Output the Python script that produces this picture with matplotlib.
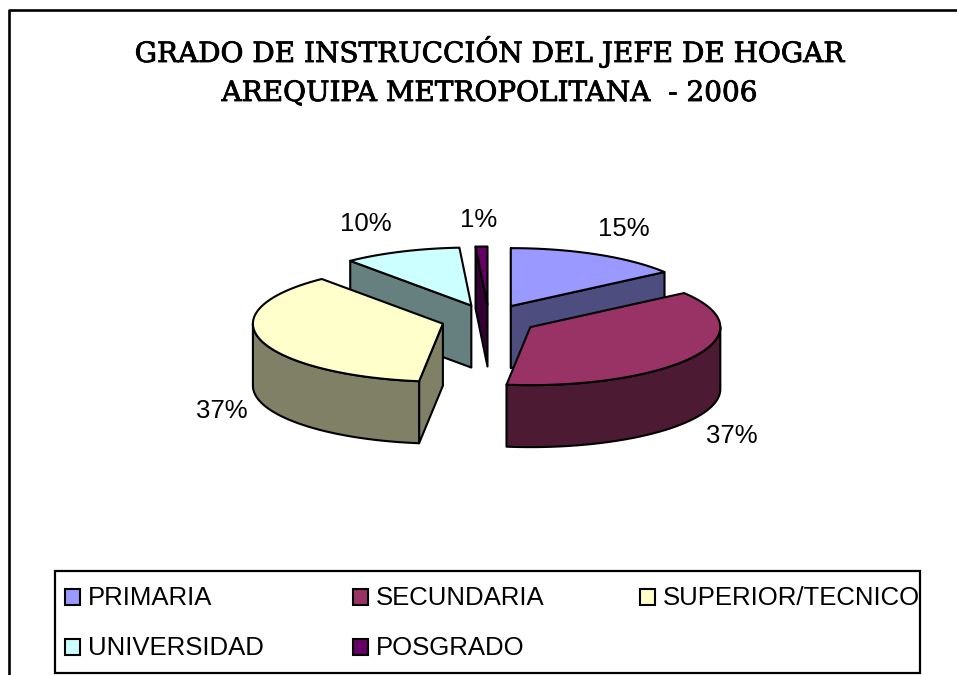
import numpy as np
import matplotlib
matplotlib.use('Agg')
import matplotlib.pyplot as plt
import matplotlib.patheffects as pe
from matplotlib.patches import Polygon, Rectangle

categorias = ['PRIMARIA', 'SECUNDARIA', 'SUPERIOR/TECNICO', 'UNIVERSIDAD', 'POSGRADO']
valores = [15, 37, 37, 10, 1]
colores = ['#9999FF', '#993366', '#FFFFCC', '#CCFFFF', '#660066']
oscuros = ['#4D4D80', '#4D1A33', '#808066', '#668080', '#330033']

# geometria del pastel 3D (pixeles)
CX, CY = 489, 319.5
RX, RY = 190, 58
ALTO = 62
EXPL = 48
EXPL_Y = 15

W, H = 957, 675
fig = plt.figure(figsize=(W / 100, H / 100), dpi=100)
ax = fig.add_axes([0, 0, 1, 1])
ax.set_xlim(0, W)
ax.set_ylim(H, 0)
ax.axis('off')

# marco del grafico: sin lado derecho, cortado abajo
ax.plot([9, 9, W], [H, 10, 10], color='black', lw=1.9, solid_capstyle='butt')


def punto(a, ox, oy):
    return ox + RX * np.sin(a), oy - RY * np.cos(a)


def cara(xs, ys, color, z):
    ax.add_patch(Polygon(np.column_stack([xs, ys]), closed=True, facecolor=color,
                         edgecolor='black', lw=1.5, joinstyle='round', zorder=z))


# angulos de cada tajada, a partir de las 12 en sentido horario
fracs = np.cumsum([0] + valores) / sum(valores) * 2 * np.pi
orden = [4, 3, 0, 2, 1]  # de atras hacia adelante

for n, i in enumerate(orden):
    a0, a1 = fracs[i], fracs[i + 1]
    med = (a0 + a1) / 2
    ox = CX + EXPL * np.sin(med)
    oy = CY - EXPL_Y * np.cos(med)
    z = 2 + n
    # caras de corte, solo las que se ven
    for a, visible in ((a0, np.sin(a0) < 1e-9), (a1, 1e-9 < np.sin(a1))):
        if visible:
            px, py = punto(a, ox, oy)
            cara([ox, px, px, ox], [oy, py, py + ALTO, oy + ALTO], oscuros[i], z)
    # pared exterior, solo la parte de adelante
    ini, fin = max(a0, np.pi / 2), min(a1, 3 * np.pi / 2)
    if fin > ini:
        t = np.linspace(ini, fin, 80)
        px, py = punto(t, ox, oy)
        cara(np.r_[px, px[::-1]], np.r_[py, py[::-1] + ALTO], oscuros[i], z)
    # tapa
    t = np.linspace(a0, a1, 120)
    px, py = punto(t, ox, oy)
    cara(np.r_[ox, px], np.r_[oy, py], colores[i], z)

# etiquetas de porcentaje
pos_etiquetas = [(624, 229), (732, 436), (222, 411), (366, 224), (479, 220)]
for v, (x, y) in zip(valores, pos_etiquetas):
    ax.text(x, y, f'{v}%', ha='center', va='center', fontsize=18.5,
            family='Liberation Sans', zorder=20)

# titulo, con un trazo fino para darle el peso del original
grueso = [pe.withStroke(linewidth=0.6, foreground='black')]
ax.text(489, 62, 'GRADO DE INSTRUCCIÓN DEL JEFE DE HOGAR', ha='center', va='baseline',
        fontsize=20.1, family='DejaVu Serif', zorder=20, path_effects=grueso)
ax.text(489, 101, 'AREQUIPA METROPOLITANA  - 2006', ha='center', va='baseline',
        fontsize=20.1, family='DejaVu Serif', zorder=20, path_effects=grueso)

# leyenda
ax.add_patch(Rectangle((55, 571), 865, 102, facecolor='white', edgecolor='black', lw=1.6, zorder=20))
col_x = [65, 353, 640, 65, 353]
fila_y = [597, 597, 597, 647, 647]
for nombre, c, x, y in zip(categorias, colores, col_x, fila_y):
    ax.add_patch(Rectangle((x, y - 8), 15, 16, facecolor=c, edgecolor='black', lw=1.5, zorder=21))
    ax.text(x + 23, y + 1, nombre, ha='left', va='center', fontsize=18.5,
            family='Liberation Sans', zorder=21)

fig.savefig('out.png', dpi=100)
